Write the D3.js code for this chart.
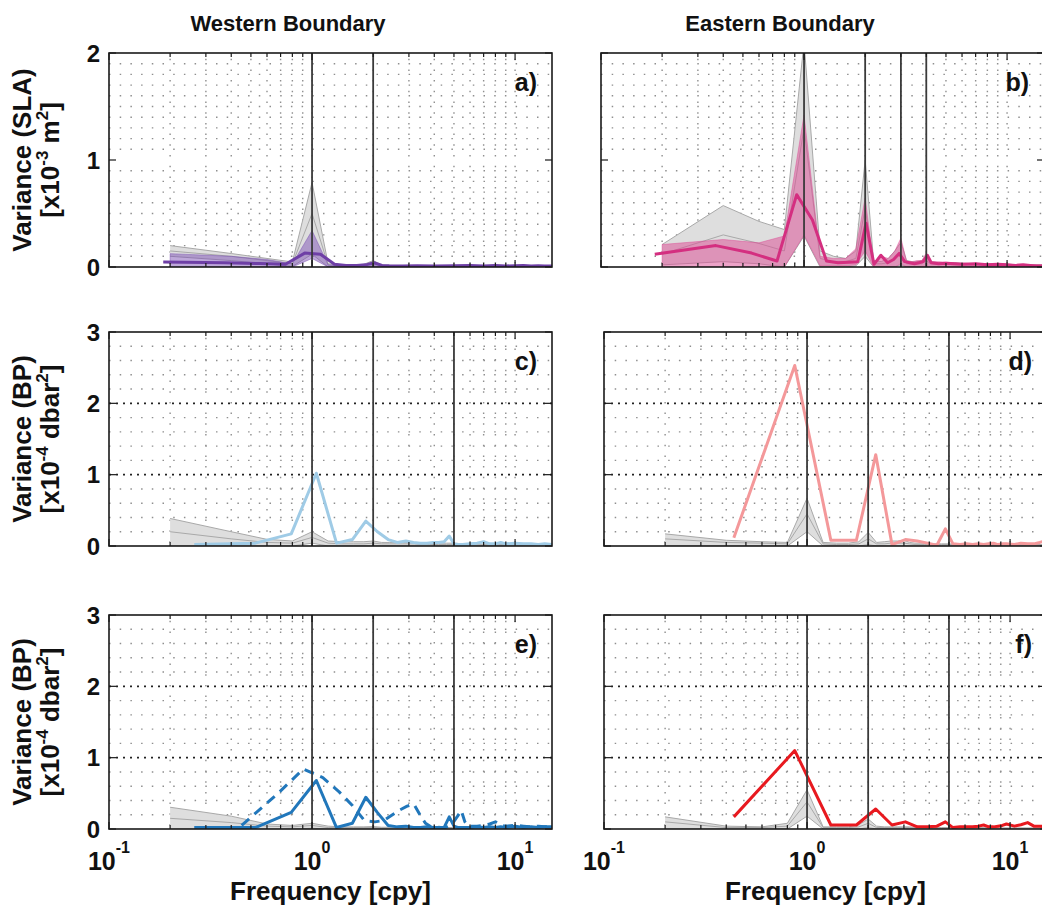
<!DOCTYPE html>
<html><head><meta charset="utf-8">
<script src="https://cdnjs.cloudflare.com/ajax/libs/d3/7.8.5/d3.min.js"></script>
<style>
body{margin:0;background:#fff}
text{font-family:"Liberation Sans",Arial,Helvetica,sans-serif;font-weight:bold;fill:#111}
</style>
</head><body>
<svg id="chart" width="1042" height="911"></svg>
<script>
// ---------------- DATA ----------------
const columnTitles = ["Western Boundary", "Eastern Boundary"];
const panelLabels = ["a)", "b)", "c)", "d)", "e)", "f)"];
const xTickValues = [0.1, 1, 10];
const xTickExponents = ["-1", "0", "1"];

// frequency grid of the grey envelope and of the coloured bands (cpy)
const grayFreq = [0.2,0.4,0.6,0.8,1.0,1.2,1.4,1.6,1.8,2.0,2.2,2.4,2.6,2.8,3.0,3.2,3.4,3.6,3.8,4.0,4.2,4.6,5.0,5.5,6,7,8,10,12,15.2];

// panel a : Western SLA
const grayUpA  = [0.20,0.126,0.08,0.047,0.79,0.03,0.02,0.02,0.025,0.06,0.02,0.015,0.015,0.015,0.015,0.015,0.012,0.012,0.012,0.012,0.012,0.01,0.01,0.01,0.01,0.01,0.01,0.01,0.01,0.01];
const grayMidA = [0.15,0.10,0.06,0.03,0.50,0.02,0.01,0.01,0.015,0.035,0.01,0.01,0.01,0.01,0.01,0.01,0.008,0.008,0.008,0.008,0.008,0.006,0.006,0.006,0.006,0.006,0.006,0.006,0.006,0.006];
const grayLoA  = [0.10,0.06,0.03,0.005,0.12,0,0,0,0,0.01,0,0,0,0,0,0,0,0,0,0,0,0,0,0,0,0,0,0,0,0];
const bandUpA  = [0.125,0.10,0.07,0.03,0.34,0.02,0.015,0.015,0.015,0.04,0.015,0.012,0.012,0.012,0.012,0.012,0.01,0.01,0.01,0.01,0.01,0.01,0.01,0.01,0.01,0.01,0.01,0.01,0.01,0.01];
const bandLoA  = [0,0,0,0,0.08,0,0,0,0,0,0,0,0,0,0,0,0,0,0,0,0,0,0,0,0,0,0,0,0,0];
const lineFreqA = [0.185,0.37,0.55,0.74,0.92,1.10,1.29,1.47,1.66,1.84,2.02,2.21,2.4,2.8,3.3,4,5,6,7,8,9,10,11,12,13,14,15.2];
const lineValA  = [0.047,0.04,0.032,0.025,0.13,0.12,0.025,0.015,0.015,0.02,0.04,0.015,0.012,0.01,0.012,0.01,0.012,0.015,0.01,0.015,0.01,0.012,0.015,0.01,0.012,0.01,0.01];

// panel b : Eastern SLA
const grayUpB  = [0.21,0.574,0.426,0.35,2.1,0.15,0.10,0.08,0.15,1.0,0.06,0.05,0.08,0.15,0.23,0.06,0.05,0.05,0.06,0.10,0.05,0.04,0.04,0.04,0.035,0.03,0.03,0.025,0.02,0.02];
const grayMidB = [0.12,0.30,0.22,0.15,1.30,0.08,0.05,0.05,0.08,0.55,0.03,0.03,0.04,0.08,0.12,0.03,0.03,0.03,0.03,0.06,0.03,0.025,0.025,0.02,0.02,0.02,0.015,0.015,0.01,0.01];
const grayLoB  = [0.02,0.05,0.03,0,0.29,0,0,0,0.01,0.10,0,0,0,0,0.02,0,0,0,0,0,0,0,0,0,0,0,0,0,0,0];
const bandUpB  = [0.21,0.257,0.226,0.29,1.42,0.10,0.08,0.08,0.17,0.645,0.03,0.10,0.08,0.15,0.27,0.05,0.05,0.06,0.06,0.13,0.05,0.05,0.045,0.04,0.035,0.03,0.03,0.025,0.02,0.02];
const bandLoB  = [0,0,0,0,0.30,0.01,0.01,0.01,0.02,0.15,0,0,0,0,0.03,0,0,0,0,0,0,0,0,0,0,0,0,0,0,0];
const lineFreqB = [0.184,0.368,0.552,0.736,0.92,1.10,1.29,1.47,1.66,1.84,2.02,2.21,2.39,2.58,2.76,2.94,3.13,3.31,3.50,3.68,3.86,4.05,4.23,4.6,5,5.5,6,7,8,9,10,11,12,13,14,15.2];
const lineValB  = [0.12,0.20,0.13,0.056,0.676,0.44,0.056,0.04,0.045,0.05,0.41,0.025,0.11,0.04,0.07,0.127,0.05,0.04,0.03,0.04,0.05,0.11,0.04,0.03,0.035,0.03,0.025,0.03,0.02,0.025,0.02,0.015,0.02,0.015,0.01,0.01];

// panel c : Western BP (upper)
const grayUpC  = [0.386,0.20,0.093,0.07,0.20,0.07,0.06,0.06,0.06,0.07,0.05,0.05,0.05,0.05,0.05,0.05,0.045,0.045,0.045,0.045,0.04,0.04,0.04,0.03,0.03,0.025,0.02,0.02,0.02,0.02];
const grayMidC = [0.20,0.10,0.05,0.04,0.12,0.04,0.03,0.03,0.03,0.04,0.03,0.03,0.03,0.03,0.03,0.03,0.02,0.02,0.02,0.02,0.02,0.02,0.02,0.015,0.015,0.01,0.01,0.01,0.01,0.01];
const grayLoC  = [0,0,0,0,0.04,0,0,0,0,0,0,0,0,0,0,0,0,0,0,0,0,0,0,0,0,0,0,0,0,0];
const lineFreqC = [0.263,0.526,0.79,1.05,1.32,1.58,1.84,2.1,2.37,2.63,2.9,3.16,3.42,3.68,3.95,4.21,4.47,4.74,5.0,5.26,5.5,6,6.5,7,7.5,8,8.5,9,10,11,12,13,14,15.2];
const lineValC  = [0.02,0.04,0.17,1.02,0.04,0.09,0.35,0.20,0.09,0.05,0.07,0.05,0.04,0.04,0.05,0.05,0.06,0.14,0.03,0.02,0.02,0.03,0.04,0.06,0.03,0.03,0.05,0.03,0.04,0.03,0.03,0.02,0.03,0.02];

// panel d : Eastern BP (upper)
const grayUpD  = [0.17,0.08,0.06,0.05,0.67,0.05,0.04,0.04,0.06,0.19,0.05,0.06,0.07,0.07,0.08,0.05,0.04,0.04,0.04,0.04,0.03,0.03,0.03,0.025,0.025,0.02,0.02,0.02,0.02,0.02];
const grayMidD = [0.10,0.05,0.04,0.03,0.45,0.03,0.02,0.02,0.03,0.10,0.03,0.03,0.04,0.04,0.04,0.03,0.02,0.02,0.02,0.02,0.02,0.02,0.02,0.015,0.015,0.01,0.01,0.01,0.01,0.01];
const grayLoD  = [0,0,0,0,0.20,0,0,0,0,0.02,0,0,0,0,0,0,0,0,0,0,0,0,0,0,0,0,0,0,0,0];
const lineFreqD = [0.436,0.87,1.31,1.75,2.18,2.62,3.05,3.49,3.92,4.36,4.8,5.23,5.67,6.1,6.54,6.98,7.41,7.85,8.29,8.72,9.16,9.6,10.5,11.3,12.2,13.1,14,15.2];
const lineValD  = [0.116,2.53,0.08,0.08,1.28,0.02,0.09,0.07,0.04,0.01,0.24,0.03,0.02,0.03,0.02,0.03,0.02,0.03,0.04,0.02,0.03,0.03,0.02,0.04,0.03,0.03,0.05,0.08];

// panel e : Western BP (lower), solid and dashed
const grayUpE  = [0.305,0.18,0.07,0.05,0.08,0.04,0.03,0.03,0.03,0.035,0.025,0.025,0.025,0.025,0.025,0.02,0.02,0.02,0.02,0.02,0.02,0.02,0.02,0.015,0.015,0.015,0.01,0.01,0.01,0.01];
const grayMidE = [0.15,0.09,0.04,0.03,0.05,0.02,0.02,0.02,0.02,0.02,0.015,0.015,0.015,0.015,0.015,0.01,0.01,0.01,0.01,0.01,0.01,0.01,0.01,0.008,0.008,0.008,0.005,0.005,0.005,0.005];
const grayLoE  = [0,0,0,0,0.01,0,0,0,0,0,0,0,0,0,0,0,0,0,0,0,0,0,0,0,0,0,0,0,0,0];
const lineFreqE = [0.263,0.526,0.79,1.05,1.32,1.58,1.84,2.1,2.37,2.63,2.9,3.16,3.42,3.68,3.95,4.21,4.47,4.74,5.0,5.26,5.5,6,6.5,7,7.5,8,8.5,9,10,11,12,13,14,15.2];
const lineValE  = [0.02,0.02,0.234,0.68,0.02,0.08,0.445,0.23,0.05,0.03,0.04,0.02,0.02,0.03,0.02,0.02,0.02,0.17,0.04,0.02,0.02,0.02,0.03,0.02,0.03,0.02,0.03,0.02,0.04,0.02,0.03,0.02,0.03,0.03];
const dashFreqE = [0.45,0.68,0.906,1.13,1.36,1.58,1.81,2.04,2.26,2.49,2.72,2.94,3.17,3.4,3.62,3.85,4.08,4.3,4.53,4.75,4.98,5.21,5.43,5.66,5.88,6.5,7,7.5,8,8.5,9,10,11,12,13,14,15.2];
const dashValE  = [0.05,0.50,0.84,0.72,0.52,0.33,0.12,0.10,0.12,0.20,0.27,0.32,0.35,0.20,0.08,0.03,0.03,0.02,0.02,0.05,0.10,0.18,0.26,0.10,0.04,0.04,0.05,0.07,0.10,0.05,0.04,0.05,0.04,0.03,0.04,0.03,0.03];

// panel f : Eastern BP (lower)
const grayUpF  = [0.17,0.04,0.03,0.08,0.55,0.03,0.03,0.03,0.06,0.14,0.04,0.03,0.03,0.03,0.03,0.03,0.025,0.025,0.025,0.025,0.02,0.02,0.02,0.02,0.02,0.02,0.015,0.015,0.015,0.015];
const grayMidF = [0.10,0.02,0.02,0.04,0.38,0.02,0.02,0.02,0.03,0.08,0.02,0.02,0.02,0.02,0.02,0.02,0.015,0.015,0.015,0.015,0.01,0.01,0.01,0.01,0.01,0.01,0.008,0.008,0.008,0.008];
const grayLoF  = [0,0,0,0,0.18,0,0,0,0,0.02,0,0,0,0,0,0,0,0,0,0,0,0,0,0,0,0,0,0,0,0];
const lineFreqF = [0.436,0.87,1.31,1.75,2.18,2.62,3.05,3.49,3.92,4.36,4.8,5.23,5.67,6.1,6.54,6.98,7.41,7.85,8.29,8.72,9.16,9.6,10.5,11.3,12.2,13.1,14,15.2];
const lineValF  = [0.17,1.10,0.056,0.056,0.28,0.056,0.10,0.03,0.03,0.04,0.10,0.02,0.03,0.03,0.03,0.04,0.056,0.03,0.03,0.04,0.05,0.07,0.04,0.06,0.09,0.04,0.04,0.03];

// reference frequencies marked by solid vertical lines
const vlinesA = [1, 2];
const vlinesB = [1, 2, 3, 4];
const vlinesBP = [1, 2, 5];

// ---------------- LAYOUT ----------------
const PW = 443, PH = 214;
const svg = d3.select("#chart");
const zip = (f, v) => f.map((d, i) => [d, v[i]]);

const panels = [
  {lab:0, left:109, top:53,  ymax:2, step:0.1, major:false, vl:vlinesA,
   gray:[grayUpA,grayMidA,grayLoA], band:[bandUpA,bandLoA], bandColor:"#7d52b5", bandOp:0.5,
   lines:[{f:lineFreqA,v:lineValA,c:"#6e3fa6",dash:null}]},
  {lab:1, left:601, top:53,  ymax:2, step:0.1, major:false, vl:vlinesB,
   gray:[grayUpB,grayMidB,grayLoB], band:[bandUpB,bandLoB], bandColor:"#dc4f95", bandOp:0.52,
   lines:[{f:lineFreqB,v:lineValB,c:"#d42f80",dash:null}]},
  {lab:2, left:109, top:332, ymax:3, step:0.2, major:true, vl:vlinesBP,
   gray:[grayUpC,grayMidC,grayLoC], band:null,
   lines:[{f:lineFreqC,v:lineValC,c:"#9fcbe6",dash:null}]},
  {lab:3, left:604, top:332, ymax:3, step:0.2, major:true, vl:vlinesBP,
   gray:[grayUpD,grayMidD,grayLoD], band:null,
   lines:[{f:lineFreqD,v:lineValD,c:"#f4989a",dash:null}]},
  {lab:4, left:109, top:615, ymax:3, step:0.2, major:true, vl:vlinesBP, bottom:true,
   gray:[grayUpE,grayMidE,grayLoE], band:null,
   lines:[{f:dashFreqE,v:dashValE,c:"#2177bb",dash:"10,7"},{f:lineFreqE,v:lineValE,c:"#2177bb",dash:null}]},
  {lab:5, left:604, top:615, ymax:3, step:0.2, major:true, vl:vlinesBP, bottom:true,
   gray:[grayUpF,grayMidF,grayLoF], band:null,
   lines:[{f:lineFreqF,v:lineValF,c:"#e8191f",dash:null}]}
];

panels.forEach((p, pi) => {
  const x = d3.scaleLog().domain([0.1, 15.2]).range([p.left, p.left + PW]);
  const y = d3.scaleLinear().domain([0, p.ymax]).range([p.top + PH, p.top]);
  const g = svg.append("g");
  const cid = "clip" + pi;
  svg.append("clipPath").attr("id", cid).append("rect")
    .attr("x", p.left).attr("y", p.top).attr("width", PW).attr("height", PH);

  // grid
  const grid = g.append("g");
  const nMinor = Math.round(p.ymax / p.step);
  d3.range(1, nMinor).map(k => k * p.step).forEach(v => {
    const isInt = Math.abs(v - Math.round(v)) < 1e-6;
    if (isInt && !p.major) return;
    grid.append("line").attr("x1", p.left).attr("x2", p.left + PW)
      .attr("y1", y(v)).attr("y2", y(v))
      .attr("stroke", isInt ? "#222" : "#8f8f8f")
      .attr("stroke-width", isInt ? 1.8 : 1.4)
      .attr("stroke-dasharray", isInt ? "2,5" : "1.5,9.2");
  });
  x.ticks().filter(t => t > 0.1).forEach(t => {
    grid.append("line").attr("x1", x(t)).attr("x2", x(t))
      .attr("y1", p.top).attr("y2", p.top + PH)
      .attr("stroke", "#8f8f8f").attr("stroke-width", 1.4)
      .attr("stroke-dasharray", "1.5,9.2").attr("stroke-dashoffset", 5);
  });

  const dg = g.append("g").attr("clip-path", `url(#${cid})`);
  // grey envelope
  const [gu, gm, gl] = p.gray;
  const area = d3.area().x(d => x(d[0])).y0(d => y(d[2])).y1(d => y(d[1]));
  dg.append("path").datum(grayFreq.map((f, i) => [f, gu[i], gl[i]]))
    .attr("d", area).attr("fill", "#dedede").attr("stroke", "none");
  const ln = d3.line().x(d => x(d[0])).y(d => y(d[1]));
  [gu, gm, gl].forEach(arr => {
    dg.append("path").datum(zip(grayFreq, arr)).attr("d", ln)
      .attr("fill", "none").attr("stroke", "#a9a9a9").attr("stroke-width", 1);
  });
  // coloured band
  if (p.band) {
    const [bu, bl] = p.band;
    dg.append("path").datum(grayFreq.map((f, i) => [f, bu[i], bl[i]]))
      .attr("d", area).attr("fill", p.bandColor).attr("fill-opacity", p.bandOp)
      .attr("stroke", p.bandColor).attr("stroke-opacity", 0.6).attr("stroke-width", 0.8);
  }
  // vertical reference lines
  p.vl.forEach(f => {
    g.append("line").attr("x1", x(f)).attr("x2", x(f))
      .attr("y1", p.top).attr("y2", p.top + PH)
      .attr("stroke", "#3a3a3a").attr("stroke-width", 1.8);
  });
  // data lines
  p.lines.forEach(s => {
    dg.append("path").datum(zip(s.f, s.v)).attr("d", ln)
      .attr("fill", "none").attr("stroke", s.c).attr("stroke-width", 3)
      .attr("stroke-linejoin", "round")
      .attr("stroke-dasharray", s.dash);
  });

  // frame
  g.append("rect").attr("x", p.left).attr("y", p.top).attr("width", PW).attr("height", PH)
    .attr("fill", "none").attr("stroke", "#1a1a1a").attr("stroke-width", 1.6);
  // x ticks (top & bottom)
  x.ticks().forEach(t => {
    const major = Math.abs(Math.log10(t) - Math.round(Math.log10(t))) < 1e-6;
    const L = major ? 7 : 4;
    [[p.top + PH, -L], [p.top, L]].forEach(([y0, dl]) => {
      g.append("line").attr("x1", x(t)).attr("x2", x(t)).attr("y1", y0).attr("y2", y0 + dl)
        .attr("stroke", "#1a1a1a").attr("stroke-width", 1.2);
    });
  });
  // y ticks (left & right)
  d3.range(0, p.ymax + 1).forEach(v => {
    g.append("line").attr("x1", p.left).attr("x2", p.left + 7).attr("y1", y(v)).attr("y2", y(v))
      .attr("stroke", "#1a1a1a").attr("stroke-width", 1.2);
    g.append("line").attr("x1", p.left + PW).attr("x2", p.left + PW - 7).attr("y1", y(v)).attr("y2", y(v))
      .attr("stroke", "#1a1a1a").attr("stroke-width", 1.2);
  });
  // y tick labels (left column only)
  if (p.left < 300) {
    d3.range(0, p.ymax + 1).forEach(v => {
      g.append("text").attr("x", p.left - 9).attr("y", y(v)).attr("dy", "0.36em")
        .attr("text-anchor", "end").attr("font-size", 24).text(v);
    });
  }
  // panel letter
  g.append("text").attr("x", p.left + PW - 15).attr("y", p.top + 38)
    .attr("text-anchor", "end").attr("font-size", 25).text(panelLabels[p.lab]);

  // x tick labels + axis title for bottom row
  if (p.bottom) {
    xTickValues.forEach((t, i) => {
      const tx = g.append("text").attr("x", x(t)).attr("y", 870).attr("text-anchor", "middle").attr("font-size", 25);
      tx.append("tspan").text("10");
      tx.append("tspan").attr("dy", -17).attr("font-size", 16).text(xTickExponents[i]);
    });
    g.append("text").attr("x", p.left + PW / 2).attr("y", 900).attr("text-anchor", "middle")
      .attr("font-size", 26).text("Frequency [cpy]");
  }
});

// column titles
svg.append("text").attr("x", 288).attr("y", 31).attr("text-anchor", "middle").attr("font-size", 22).text(columnTitles[0]);
svg.append("text").attr("x", 780).attr("y", 31).attr("text-anchor", "middle").attr("font-size", 22).text(columnTitles[1]);

// y axis titles
function yTitle(cy, line1, unitExp, unitName, unitPow) {
  svg.append("text").attr("transform", `translate(31,${cy}) rotate(-90)`)
    .attr("text-anchor", "middle").attr("font-size", 26).text(line1);
  const t2 = svg.append("text").attr("transform", `translate(59,${cy}) rotate(-90)`)
    .attr("text-anchor", "middle").attr("font-size", 26);
  t2.append("tspan").text("[x10");
  t2.append("tspan").attr("dy", -11).attr("font-size", 17).text(unitExp);
  t2.append("tspan").attr("dy", 11).text(" " + unitName);
  t2.append("tspan").attr("dy", -11).attr("font-size", 17).text(unitPow);
  t2.append("tspan").attr("dy", 11).text("]");
}
yTitle(53 + PH / 2, "Variance (SLA)", "-3", "m", "2");
yTitle(332 + PH / 2, "Variance (BP)", "-4", "dbar", "2");
yTitle(615 + PH / 2, "Variance (BP)", "-4", "dbar", "2");
</script>
</body></html>
